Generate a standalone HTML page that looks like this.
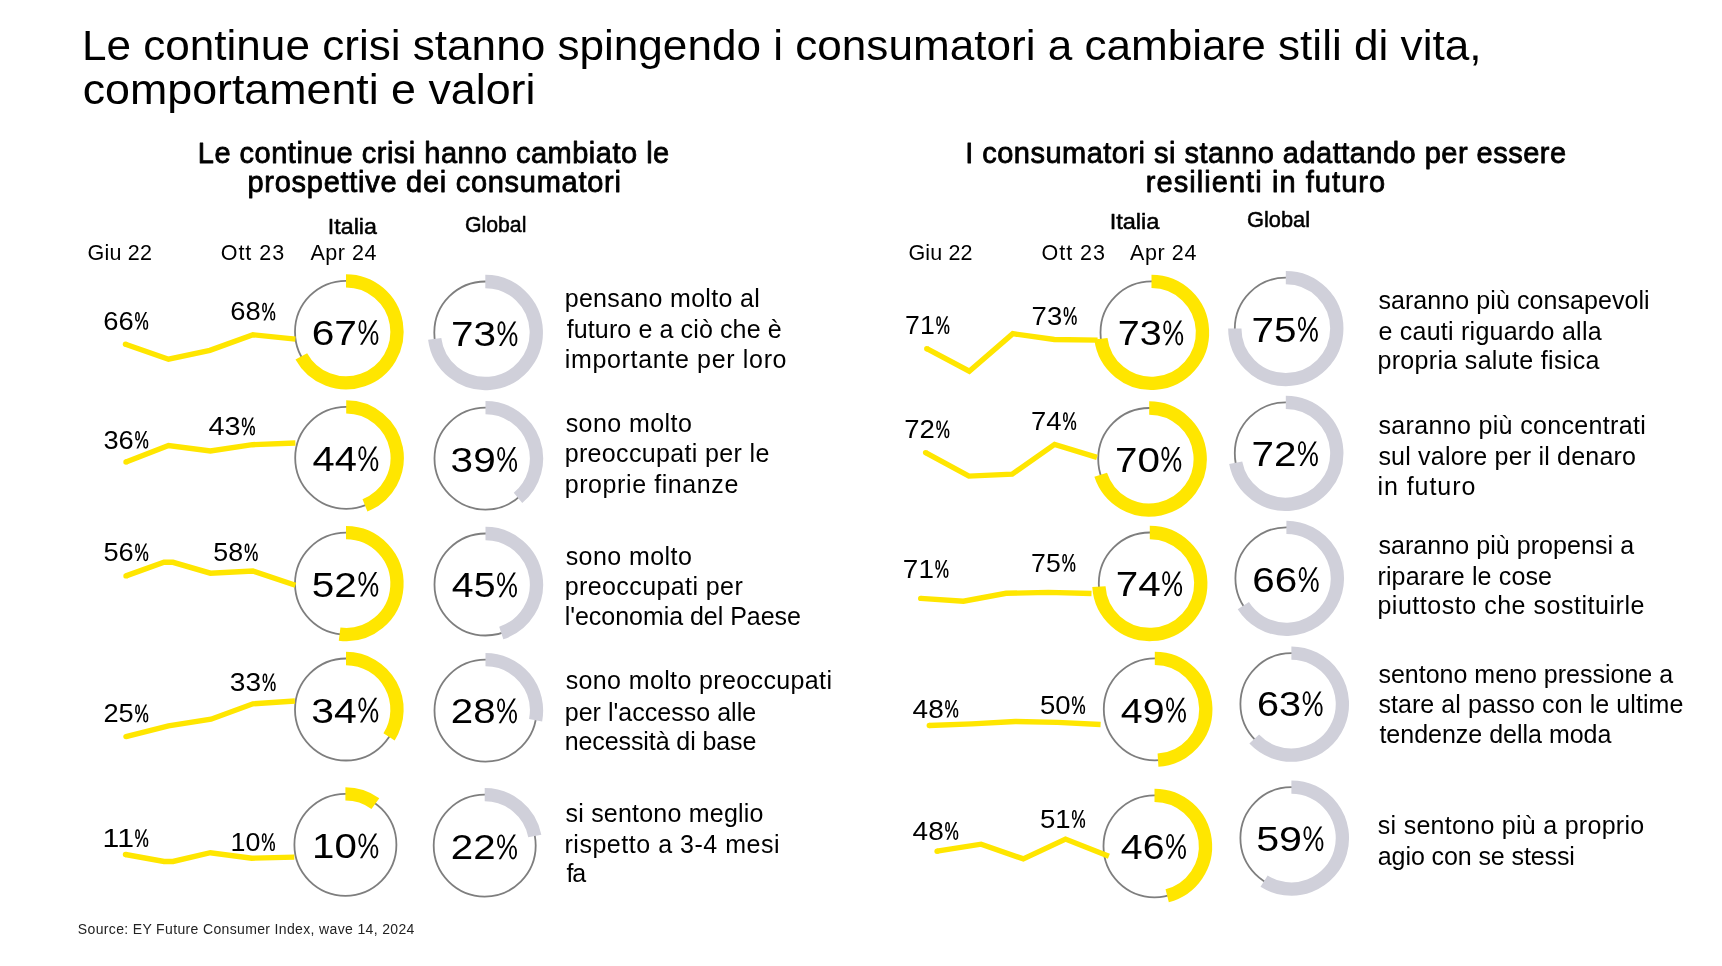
<!DOCTYPE html>
<html><head><meta charset="utf-8"><title>Consumatori</title><style>html,body{margin:0;padding:0;background:#fff;width:1722px;height:966px;overflow:hidden}</style></head><body>
<svg width="1722" height="966" viewBox="0 0 1722 966" style="display:block;will-change:transform;font-family:'Liberation Sans', sans-serif">
<rect width="1722" height="966" fill="#fff"/>
<circle cx="346" cy="331.8" r="51" fill="none" stroke="#7E7E7E" stroke-width="1.8"/>
<path d="M346,280.8 A51,51 0 1 1 301.31,356.37" fill="none" stroke="#FFE600" stroke-width="13.3"/>
<circle cx="485.3" cy="332.5" r="51" fill="none" stroke="#7E7E7E" stroke-width="1.8"/>
<path d="M485.3,281.5 A51,51 0 1 1 434.70,338.89" fill="none" stroke="#D0D0DA" stroke-width="13.3"/>
<circle cx="346.2" cy="457.9" r="51" fill="none" stroke="#7E7E7E" stroke-width="1.8"/>
<path d="M346.2,406.9 A51,51 0 0 1 364.97,505.32" fill="none" stroke="#FFE600" stroke-width="13.3"/>
<circle cx="485.5" cy="458.6" r="51" fill="none" stroke="#7E7E7E" stroke-width="1.8"/>
<path d="M485.5,407.6 A51,51 0 0 1 518.01,497.90" fill="none" stroke="#D0D0DA" stroke-width="13.3"/>
<circle cx="346" cy="583.6" r="51" fill="none" stroke="#7E7E7E" stroke-width="1.8"/>
<path d="M346,532.6 A51,51 0 1 1 339.61,634.20" fill="none" stroke="#FFE600" stroke-width="13.3"/>
<circle cx="485.5" cy="584.5" r="51" fill="none" stroke="#7E7E7E" stroke-width="1.8"/>
<path d="M485.5,533.5 A51,51 0 0 1 501.26,633.00" fill="none" stroke="#D0D0DA" stroke-width="13.3"/>
<circle cx="346" cy="709.5" r="51" fill="none" stroke="#7E7E7E" stroke-width="1.8"/>
<path d="M346,658.5 A51,51 0 0 1 389.06,736.83" fill="none" stroke="#FFE600" stroke-width="13.3"/>
<circle cx="485.5" cy="710.6" r="51" fill="none" stroke="#7E7E7E" stroke-width="1.8"/>
<path d="M485.5,659.6 A51,51 0 0 1 535.60,720.16" fill="none" stroke="#D0D0DA" stroke-width="13.3"/>
<circle cx="345.4" cy="844.8" r="51" fill="none" stroke="#7E7E7E" stroke-width="1.8"/>
<path d="M345.4,793.8 A51,51 0 0 1 375.38,803.54" fill="none" stroke="#FFE600" stroke-width="13.3"/>
<circle cx="484.7" cy="845.6" r="51" fill="none" stroke="#7E7E7E" stroke-width="1.8"/>
<path d="M484.7,794.6 A51,51 0 0 1 534.80,836.04" fill="none" stroke="#D0D0DA" stroke-width="13.3"/>
<circle cx="1151.5" cy="332.4" r="51" fill="none" stroke="#7E7E7E" stroke-width="1.8"/>
<path d="M1151.5,281.4 A51,51 0 1 1 1100.90,338.79" fill="none" stroke="#FFE600" stroke-width="13.3"/>
<circle cx="1285.8" cy="328.6" r="51" fill="none" stroke="#7E7E7E" stroke-width="1.8"/>
<path d="M1285.8,277.6 A51,51 0 1 1 1234.80,328.60" fill="none" stroke="#D0D0DA" stroke-width="13.3"/>
<circle cx="1149.2" cy="459" r="51" fill="none" stroke="#7E7E7E" stroke-width="1.8"/>
<path d="M1149.2,408 A51,51 0 1 1 1100.70,474.76" fill="none" stroke="#FFE600" stroke-width="13.3"/>
<circle cx="1285.8" cy="453.3" r="51" fill="none" stroke="#7E7E7E" stroke-width="1.8"/>
<path d="M1285.8,402.3 A51,51 0 1 1 1235.70,462.86" fill="none" stroke="#D0D0DA" stroke-width="13.3"/>
<circle cx="1149.8" cy="583.5" r="51" fill="none" stroke="#7E7E7E" stroke-width="1.8"/>
<path d="M1149.8,532.5 A51,51 0 1 1 1098.90,586.70" fill="none" stroke="#FFE600" stroke-width="13.3"/>
<circle cx="1286.4" cy="578.3" r="51" fill="none" stroke="#7E7E7E" stroke-width="1.8"/>
<path d="M1286.4,527.3 A51,51 0 1 1 1243.34,605.63" fill="none" stroke="#D0D0DA" stroke-width="13.3"/>
<circle cx="1154.8" cy="709.3" r="51" fill="none" stroke="#7E7E7E" stroke-width="1.8"/>
<path d="M1154.8,658.3 A51,51 0 0 1 1158.00,760.20" fill="none" stroke="#FFE600" stroke-width="13.3"/>
<circle cx="1291.4" cy="704.1" r="51" fill="none" stroke="#7E7E7E" stroke-width="1.8"/>
<path d="M1291.4,653.1 A51,51 0 1 1 1254.22,739.01" fill="none" stroke="#D0D0DA" stroke-width="13.3"/>
<circle cx="1154.5" cy="846.3" r="51" fill="none" stroke="#7E7E7E" stroke-width="1.8"/>
<path d="M1154.5,795.3 A51,51 0 0 1 1167.18,895.70" fill="none" stroke="#FFE600" stroke-width="13.3"/>
<circle cx="1291.4" cy="838.1" r="51" fill="none" stroke="#7E7E7E" stroke-width="1.8"/>
<path d="M1291.4,787.1 A51,51 0 1 1 1264.07,881.16" fill="none" stroke="#D0D0DA" stroke-width="13.3"/>
<ellipse cx="137.45" cy="316.86" rx="1.70" ry="4.11" fill="none" stroke="#000" stroke-width="1.50"/>
<ellipse cx="145.60" cy="324.95" rx="1.86" ry="4.11" fill="none" stroke="#000" stroke-width="1.50"/>
<polygon points="136.32,329.60 138.08,329.60 146.99,312.00 145.23,312.00" fill="#000"/>
<ellipse cx="264.55" cy="307.66" rx="1.70" ry="4.11" fill="none" stroke="#000" stroke-width="1.50"/>
<ellipse cx="272.70" cy="315.75" rx="1.86" ry="4.11" fill="none" stroke="#000" stroke-width="1.50"/>
<polygon points="263.42,320.40 265.18,320.40 274.09,302.80 272.33,302.80" fill="#000"/>
<ellipse cx="362.49" cy="326.96" rx="3.07" ry="6.03" fill="none" stroke="#000" stroke-width="1.85"/>
<ellipse cx="374.43" cy="337.99" rx="3.02" ry="6.08" fill="none" stroke="#000" stroke-width="1.85"/>
<polygon points="360.06,344.80 362.33,344.80 377.24,320.21 374.96,320.21" fill="#000"/>
<ellipse cx="501.49" cy="328.26" rx="3.07" ry="6.03" fill="none" stroke="#000" stroke-width="1.85"/>
<ellipse cx="513.43" cy="339.29" rx="3.02" ry="6.08" fill="none" stroke="#000" stroke-width="1.85"/>
<polygon points="499.06,346.10 501.33,346.10 516.24,321.51 513.96,321.51" fill="#000"/>
<ellipse cx="137.55" cy="435.76" rx="1.70" ry="4.11" fill="none" stroke="#000" stroke-width="1.50"/>
<ellipse cx="145.70" cy="443.85" rx="1.86" ry="4.11" fill="none" stroke="#000" stroke-width="1.50"/>
<polygon points="136.42,448.50 138.18,448.50 147.09,430.90 145.33,430.90" fill="#000"/>
<ellipse cx="244.25" cy="422.46" rx="1.70" ry="4.11" fill="none" stroke="#000" stroke-width="1.50"/>
<ellipse cx="252.40" cy="430.55" rx="1.86" ry="4.11" fill="none" stroke="#000" stroke-width="1.50"/>
<polygon points="243.12,435.20 244.88,435.20 253.79,417.60 252.03,417.60" fill="#000"/>
<ellipse cx="362.39" cy="453.16" rx="3.07" ry="6.03" fill="none" stroke="#000" stroke-width="1.85"/>
<ellipse cx="374.33" cy="464.19" rx="3.02" ry="6.08" fill="none" stroke="#000" stroke-width="1.85"/>
<polygon points="359.96,471.00 362.23,471.00 377.14,446.41 374.86,446.41" fill="#000"/>
<ellipse cx="501.19" cy="453.86" rx="3.07" ry="6.03" fill="none" stroke="#000" stroke-width="1.85"/>
<ellipse cx="513.13" cy="464.89" rx="3.02" ry="6.08" fill="none" stroke="#000" stroke-width="1.85"/>
<polygon points="498.76,471.70 501.03,471.70 515.94,447.11 513.66,447.11" fill="#000"/>
<ellipse cx="137.55" cy="548.26" rx="1.70" ry="4.11" fill="none" stroke="#000" stroke-width="1.50"/>
<ellipse cx="145.70" cy="556.35" rx="1.86" ry="4.11" fill="none" stroke="#000" stroke-width="1.50"/>
<polygon points="136.42,561.00 138.18,561.00 147.09,543.40 145.33,543.40" fill="#000"/>
<ellipse cx="247.05" cy="548.26" rx="1.70" ry="4.11" fill="none" stroke="#000" stroke-width="1.50"/>
<ellipse cx="255.20" cy="556.35" rx="1.86" ry="4.11" fill="none" stroke="#000" stroke-width="1.50"/>
<polygon points="245.92,561.00 247.68,561.00 256.59,543.40 254.83,543.40" fill="#000"/>
<ellipse cx="362.39" cy="578.76" rx="3.07" ry="6.03" fill="none" stroke="#000" stroke-width="1.85"/>
<ellipse cx="374.33" cy="589.79" rx="3.02" ry="6.08" fill="none" stroke="#000" stroke-width="1.85"/>
<polygon points="359.96,596.60 362.23,596.60 377.14,572.01 374.86,572.01" fill="#000"/>
<ellipse cx="501.09" cy="579.36" rx="3.07" ry="6.03" fill="none" stroke="#000" stroke-width="1.85"/>
<ellipse cx="513.03" cy="590.39" rx="3.02" ry="6.08" fill="none" stroke="#000" stroke-width="1.85"/>
<polygon points="498.66,597.20 500.93,597.20 515.84,572.61 513.56,572.61" fill="#000"/>
<ellipse cx="137.55" cy="709.46" rx="1.70" ry="4.11" fill="none" stroke="#000" stroke-width="1.50"/>
<ellipse cx="145.70" cy="717.55" rx="1.86" ry="4.11" fill="none" stroke="#000" stroke-width="1.50"/>
<polygon points="136.42,722.20 138.18,722.20 147.09,704.60 145.33,704.60" fill="#000"/>
<ellipse cx="264.95" cy="678.26" rx="1.70" ry="4.11" fill="none" stroke="#000" stroke-width="1.50"/>
<ellipse cx="273.10" cy="686.35" rx="1.86" ry="4.11" fill="none" stroke="#000" stroke-width="1.50"/>
<polygon points="263.82,691.00 265.58,691.00 274.49,673.40 272.73,673.40" fill="#000"/>
<ellipse cx="362.39" cy="704.56" rx="3.07" ry="6.03" fill="none" stroke="#000" stroke-width="1.85"/>
<ellipse cx="374.33" cy="715.59" rx="3.02" ry="6.08" fill="none" stroke="#000" stroke-width="1.85"/>
<polygon points="359.96,722.40 362.23,722.40 377.14,697.81 374.86,697.81" fill="#000"/>
<ellipse cx="501.09" cy="705.36" rx="3.07" ry="6.03" fill="none" stroke="#000" stroke-width="1.85"/>
<ellipse cx="513.03" cy="716.39" rx="3.02" ry="6.08" fill="none" stroke="#000" stroke-width="1.85"/>
<polygon points="498.66,723.20 500.93,723.20 515.84,698.61 513.56,698.61" fill="#000"/>
<ellipse cx="137.55" cy="834.16" rx="1.70" ry="4.11" fill="none" stroke="#000" stroke-width="1.50"/>
<ellipse cx="145.70" cy="842.25" rx="1.86" ry="4.11" fill="none" stroke="#000" stroke-width="1.50"/>
<polygon points="136.42,846.90 138.18,846.90 147.09,829.30 145.33,829.30" fill="#000"/>
<ellipse cx="264.25" cy="838.06" rx="1.70" ry="4.11" fill="none" stroke="#000" stroke-width="1.50"/>
<ellipse cx="272.40" cy="846.15" rx="1.86" ry="4.11" fill="none" stroke="#000" stroke-width="1.50"/>
<polygon points="263.12,850.80 264.88,850.80 273.79,833.20 272.03,833.20" fill="#000"/>
<ellipse cx="362.39" cy="840.36" rx="3.07" ry="6.03" fill="none" stroke="#000" stroke-width="1.85"/>
<ellipse cx="374.33" cy="851.39" rx="3.02" ry="6.08" fill="none" stroke="#000" stroke-width="1.85"/>
<polygon points="359.96,858.20 362.23,858.20 377.14,833.61 374.86,833.61" fill="#000"/>
<ellipse cx="501.09" cy="841.36" rx="3.07" ry="6.03" fill="none" stroke="#000" stroke-width="1.85"/>
<ellipse cx="513.03" cy="852.39" rx="3.02" ry="6.08" fill="none" stroke="#000" stroke-width="1.85"/>
<polygon points="498.66,859.20 500.93,859.20 515.84,834.61 513.56,834.61" fill="#000"/>
<ellipse cx="938.65" cy="321.16" rx="1.70" ry="4.11" fill="none" stroke="#000" stroke-width="1.50"/>
<ellipse cx="946.80" cy="329.25" rx="1.86" ry="4.11" fill="none" stroke="#000" stroke-width="1.50"/>
<polygon points="937.52,333.90 939.28,333.90 948.19,316.30 946.43,316.30" fill="#000"/>
<ellipse cx="1066.05" cy="311.96" rx="1.70" ry="4.11" fill="none" stroke="#000" stroke-width="1.50"/>
<ellipse cx="1074.20" cy="320.05" rx="1.86" ry="4.11" fill="none" stroke="#000" stroke-width="1.50"/>
<polygon points="1064.92,324.70 1066.68,324.70 1075.59,307.10 1073.83,307.10" fill="#000"/>
<ellipse cx="1167.29" cy="327.36" rx="3.07" ry="6.03" fill="none" stroke="#000" stroke-width="1.85"/>
<ellipse cx="1179.23" cy="338.39" rx="3.02" ry="6.08" fill="none" stroke="#000" stroke-width="1.85"/>
<polygon points="1164.86,345.20 1167.13,345.20 1182.04,320.61 1179.76,320.61" fill="#000"/>
<ellipse cx="1301.99" cy="323.76" rx="3.07" ry="6.03" fill="none" stroke="#000" stroke-width="1.85"/>
<ellipse cx="1313.93" cy="334.79" rx="3.02" ry="6.08" fill="none" stroke="#000" stroke-width="1.85"/>
<polygon points="1299.56,341.60 1301.83,341.60 1316.74,317.01 1314.46,317.01" fill="#000"/>
<ellipse cx="938.65" cy="425.26" rx="1.70" ry="4.11" fill="none" stroke="#000" stroke-width="1.50"/>
<ellipse cx="946.80" cy="433.35" rx="1.86" ry="4.11" fill="none" stroke="#000" stroke-width="1.50"/>
<polygon points="937.52,438.00 939.28,438.00 948.19,420.40 946.43,420.40" fill="#000"/>
<ellipse cx="1065.45" cy="417.16" rx="1.70" ry="4.11" fill="none" stroke="#000" stroke-width="1.50"/>
<ellipse cx="1073.60" cy="425.25" rx="1.86" ry="4.11" fill="none" stroke="#000" stroke-width="1.50"/>
<polygon points="1064.32,429.90 1066.08,429.90 1074.99,412.30 1073.23,412.30" fill="#000"/>
<ellipse cx="1165.39" cy="453.76" rx="3.07" ry="6.03" fill="none" stroke="#000" stroke-width="1.85"/>
<ellipse cx="1177.33" cy="464.79" rx="3.02" ry="6.08" fill="none" stroke="#000" stroke-width="1.85"/>
<polygon points="1162.96,471.60 1165.23,471.60 1180.14,447.01 1177.86,447.01" fill="#000"/>
<ellipse cx="1301.99" cy="448.16" rx="3.07" ry="6.03" fill="none" stroke="#000" stroke-width="1.85"/>
<ellipse cx="1313.93" cy="459.19" rx="3.02" ry="6.08" fill="none" stroke="#000" stroke-width="1.85"/>
<polygon points="1299.56,466.00 1301.83,466.00 1316.74,441.41 1314.46,441.41" fill="#000"/>
<ellipse cx="937.75" cy="564.96" rx="1.70" ry="4.11" fill="none" stroke="#000" stroke-width="1.50"/>
<ellipse cx="945.90" cy="573.05" rx="1.86" ry="4.11" fill="none" stroke="#000" stroke-width="1.50"/>
<polygon points="936.62,577.70 938.38,577.70 947.29,560.10 945.53,560.10" fill="#000"/>
<ellipse cx="1064.65" cy="558.86" rx="1.70" ry="4.11" fill="none" stroke="#000" stroke-width="1.50"/>
<ellipse cx="1072.80" cy="566.95" rx="1.86" ry="4.11" fill="none" stroke="#000" stroke-width="1.50"/>
<polygon points="1063.52,571.60 1065.28,571.60 1074.19,554.00 1072.43,554.00" fill="#000"/>
<ellipse cx="1166.19" cy="578.16" rx="3.07" ry="6.03" fill="none" stroke="#000" stroke-width="1.85"/>
<ellipse cx="1178.13" cy="589.19" rx="3.02" ry="6.08" fill="none" stroke="#000" stroke-width="1.85"/>
<polygon points="1163.76,596.00 1166.03,596.00 1180.94,571.41 1178.66,571.41" fill="#000"/>
<ellipse cx="1302.79" cy="574.06" rx="3.07" ry="6.03" fill="none" stroke="#000" stroke-width="1.85"/>
<ellipse cx="1314.73" cy="585.09" rx="3.02" ry="6.08" fill="none" stroke="#000" stroke-width="1.85"/>
<polygon points="1300.36,591.90 1302.63,591.90 1317.54,567.31 1315.26,567.31" fill="#000"/>
<ellipse cx="947.55" cy="704.76" rx="1.70" ry="4.11" fill="none" stroke="#000" stroke-width="1.50"/>
<ellipse cx="955.70" cy="712.85" rx="1.86" ry="4.11" fill="none" stroke="#000" stroke-width="1.50"/>
<polygon points="946.42,717.50 948.18,717.50 957.09,699.90 955.33,699.90" fill="#000"/>
<ellipse cx="1074.35" cy="701.16" rx="1.70" ry="4.11" fill="none" stroke="#000" stroke-width="1.50"/>
<ellipse cx="1082.50" cy="709.25" rx="1.86" ry="4.11" fill="none" stroke="#000" stroke-width="1.50"/>
<polygon points="1073.22,713.90 1074.98,713.90 1083.89,696.30 1082.13,696.30" fill="#000"/>
<ellipse cx="1170.09" cy="704.56" rx="3.07" ry="6.03" fill="none" stroke="#000" stroke-width="1.85"/>
<ellipse cx="1182.03" cy="715.59" rx="3.02" ry="6.08" fill="none" stroke="#000" stroke-width="1.85"/>
<polygon points="1167.66,722.40 1169.93,722.40 1184.84,697.81 1182.56,697.81" fill="#000"/>
<ellipse cx="1306.69" cy="698.16" rx="3.07" ry="6.03" fill="none" stroke="#000" stroke-width="1.85"/>
<ellipse cx="1318.63" cy="709.19" rx="3.02" ry="6.08" fill="none" stroke="#000" stroke-width="1.85"/>
<polygon points="1304.26,716.00 1306.53,716.00 1321.44,691.41 1319.16,691.41" fill="#000"/>
<ellipse cx="947.55" cy="826.96" rx="1.70" ry="4.11" fill="none" stroke="#000" stroke-width="1.50"/>
<ellipse cx="955.70" cy="835.05" rx="1.86" ry="4.11" fill="none" stroke="#000" stroke-width="1.50"/>
<polygon points="946.42,839.70 948.18,839.70 957.09,822.10 955.33,822.10" fill="#000"/>
<ellipse cx="1074.35" cy="814.96" rx="1.70" ry="4.11" fill="none" stroke="#000" stroke-width="1.50"/>
<ellipse cx="1082.50" cy="823.05" rx="1.86" ry="4.11" fill="none" stroke="#000" stroke-width="1.50"/>
<polygon points="1073.22,827.70 1074.98,827.70 1083.89,810.10 1082.13,810.10" fill="#000"/>
<ellipse cx="1170.09" cy="840.96" rx="3.07" ry="6.03" fill="none" stroke="#000" stroke-width="1.85"/>
<ellipse cx="1182.03" cy="851.99" rx="3.02" ry="6.08" fill="none" stroke="#000" stroke-width="1.85"/>
<polygon points="1167.66,858.80 1169.93,858.80 1184.84,834.21 1182.56,834.21" fill="#000"/>
<ellipse cx="1307.49" cy="833.16" rx="3.07" ry="6.03" fill="none" stroke="#000" stroke-width="1.85"/>
<ellipse cx="1319.43" cy="844.19" rx="3.02" ry="6.08" fill="none" stroke="#000" stroke-width="1.85"/>
<polygon points="1305.06,851.00 1307.33,851.00 1322.24,826.41 1319.96,826.41" fill="#000"/>
<path d="M125.5,344.3 L168.5,359.2 L209.9,350.4 L253,334.8 L295.4,339.1" fill="none" stroke="#FFE600" stroke-width="5.4" stroke-linejoin="miter" stroke-linecap="butt"/>
<circle cx="125.5" cy="344.3" r="2.7" fill="#FFE600"/>
<path d="M126,462 L168.5,445.5 L210.4,451 L252.4,444.7 L295.4,443" fill="none" stroke="#FFE600" stroke-width="5.4" stroke-linejoin="miter" stroke-linecap="butt"/>
<circle cx="126" cy="462" r="2.7" fill="#FFE600"/>
<path d="M126,575.9 L164,562.3 L173,562.3 L210.4,573.2 L252.9,571 L295.4,585.3" fill="none" stroke="#FFE600" stroke-width="5.4" stroke-linejoin="miter" stroke-linecap="butt"/>
<circle cx="126" cy="575.9" r="2.7" fill="#FFE600"/>
<path d="M126,736.6 L168.5,725.9 L211,719.2 L252.9,703.8 L294.9,701" fill="none" stroke="#FFE600" stroke-width="5.4" stroke-linejoin="miter" stroke-linecap="butt"/>
<circle cx="126" cy="736.6" r="2.7" fill="#FFE600"/>
<path d="M125.5,854.5 L164,861.5 L173,861.5 L210.4,852.7 L251.8,858.2 L294.3,857.1" fill="none" stroke="#FFE600" stroke-width="5.4" stroke-linejoin="miter" stroke-linecap="butt"/>
<circle cx="125.5" cy="854.5" r="2.7" fill="#FFE600"/>
<path d="M926.8,348.7 L969.3,371.2 L1012.8,333.7 L1054.3,339.5 L1097.6,340.1" fill="none" stroke="#FFE600" stroke-width="5.4" stroke-linejoin="miter" stroke-linecap="butt"/>
<circle cx="926.8" cy="348.7" r="2.7" fill="#FFE600"/>
<path d="M925.6,452.6 L968.9,476.1 L1012.2,474.1 L1054.6,444.4 L1097,457.4" fill="none" stroke="#FFE600" stroke-width="5.4" stroke-linejoin="miter" stroke-linecap="butt"/>
<circle cx="925.6" cy="452.6" r="2.7" fill="#FFE600"/>
<path d="M920.7,598.4 L963.4,601.2 L1006.1,593.3 L1048.2,592.4 L1091.5,593.5" fill="none" stroke="#FFE600" stroke-width="5.4" stroke-linejoin="miter" stroke-linecap="butt"/>
<circle cx="920.7" cy="598.4" r="2.7" fill="#FFE600"/>
<path d="M929.3,725.5 L972,723.9 L1015.2,721.5 L1057.3,722.4 L1100.6,724.5" fill="none" stroke="#FFE600" stroke-width="5.4" stroke-linejoin="miter" stroke-linecap="butt"/>
<circle cx="929.3" cy="725.5" r="2.7" fill="#FFE600"/>
<path d="M937.1,851.2 L981.1,844.2 L1023.3,858.9 L1065.5,839.1 L1108.9,856.3" fill="none" stroke="#FFE600" stroke-width="5.4" stroke-linejoin="miter" stroke-linecap="butt"/>
<circle cx="937.1" cy="851.2" r="2.7" fill="#FFE600"/>
<text x="81.90" y="60.2" font-size="43" fill="#000" textLength="1399.58" lengthAdjust="spacingAndGlyphs">Le continue crisi stanno spingendo i consumatori a cambiare stili di vita,</text>
<text x="82.72" y="103.9" font-size="43" fill="#000" textLength="452.67" lengthAdjust="spacingAndGlyphs">comportamenti e valori</text>
<text x="197.80" y="162.8" font-size="29" fill="#000" stroke="#000" stroke-width="0.8" stroke-linejoin="round" textLength="471.43" lengthAdjust="spacing">Le continue crisi hanno cambiato le</text>
<text x="247.50" y="191.9" font-size="29" fill="#000" stroke="#000" stroke-width="0.8" stroke-linejoin="round" textLength="373.34" lengthAdjust="spacing">prospettive dei consumatori</text>
<text x="965.20" y="162.6" font-size="29" fill="#000" stroke="#000" stroke-width="0.8" stroke-linejoin="round" textLength="600.84" lengthAdjust="spacing">I consumatori si stanno adattando per essere</text>
<text x="1145.70" y="191.5" font-size="29" fill="#000" stroke="#000" stroke-width="0.8" stroke-linejoin="round" textLength="239.52" lengthAdjust="spacing">resilienti in futuro</text>
<text x="327.89" y="234" font-size="22" fill="#000" stroke="#000" stroke-width="0.5" stroke-linejoin="round" textLength="48.96" lengthAdjust="spacingAndGlyphs">Italia</text>
<text x="464.93" y="231.8" font-size="22" fill="#000" stroke="#000" stroke-width="0.5" stroke-linejoin="round" textLength="61.44" lengthAdjust="spacingAndGlyphs">Global</text>
<text x="1109.66" y="229" font-size="22" fill="#000" stroke="#000" stroke-width="0.5" stroke-linejoin="round" textLength="49.79" lengthAdjust="spacingAndGlyphs">Italia</text>
<text x="1247.01" y="226.9" font-size="22" fill="#000" stroke="#000" stroke-width="0.5" stroke-linejoin="round" textLength="62.98" lengthAdjust="spacingAndGlyphs">Global</text>
<text x="87.50" y="259.5" font-size="21.5" fill="#000" textLength="64.46" lengthAdjust="spacing">Giu 22</text>
<text x="220.70" y="259.9" font-size="21.5" fill="#000" textLength="63.46" lengthAdjust="spacing">Ott 23</text>
<text x="310.50" y="260" font-size="21.5" fill="#000" textLength="65.86" lengthAdjust="spacing">Apr 24</text>
<text x="908.40" y="259.9" font-size="21.5" fill="#000" textLength="64.16" lengthAdjust="spacing">Giu 22</text>
<text x="1041.60" y="259.9" font-size="21.5" fill="#000" textLength="63.36" lengthAdjust="spacing">Ott 23</text>
<text x="1130.00" y="259.9" font-size="21.5" fill="#000" textLength="66.36" lengthAdjust="spacing">Apr 24</text>
<text x="77.80" y="934" font-size="14" fill="#222" textLength="336.57" lengthAdjust="spacing">Source: EY Future Consumer Index, wave 14, 2024</text>
<text x="103.21" y="329.6" font-size="25" fill="#000" textLength="30.39" lengthAdjust="spacingAndGlyphs">66</text>
<text x="230.31" y="320.4" font-size="25" fill="#000" textLength="30.39" lengthAdjust="spacingAndGlyphs">68</text>
<text x="311.70" y="345.0" font-size="35.4" fill="#000" textLength="45.28" lengthAdjust="spacingAndGlyphs">67</text>
<text x="450.91" y="346.29999999999995" font-size="35.4" fill="#000" textLength="45.07" lengthAdjust="spacingAndGlyphs">73</text>
<text x="564.70" y="306.8" font-size="25" fill="#000" textLength="195.01" lengthAdjust="spacing">pensano molto al</text>
<text x="566.70" y="337.8" font-size="25" fill="#000" textLength="214.94" lengthAdjust="spacing">futuro e a ciò che è</text>
<text x="564.70" y="367.6" font-size="25" fill="#000" textLength="221.83" lengthAdjust="spacing">importante per loro</text>
<text x="103.41" y="448.5" font-size="25" fill="#000" textLength="30.29" lengthAdjust="spacingAndGlyphs">36</text>
<text x="208.45" y="435.2" font-size="25" fill="#000" textLength="32.00" lengthAdjust="spacingAndGlyphs">43</text>
<text x="312.47" y="471.2" font-size="35.4" fill="#000" textLength="44.38" lengthAdjust="spacingAndGlyphs">44</text>
<text x="450.61" y="471.9" font-size="35.4" fill="#000" textLength="45.07" lengthAdjust="spacingAndGlyphs">39</text>
<text x="565.70" y="431.9" font-size="25" fill="#000" textLength="126.10" lengthAdjust="spacing">sono molto</text>
<text x="564.70" y="461.7" font-size="25" fill="#000" textLength="204.63" lengthAdjust="spacing">preoccupati per le</text>
<text x="564.70" y="492.6" font-size="25" fill="#000" textLength="173.59" lengthAdjust="spacing">proprie finanze</text>
<text x="103.41" y="561" font-size="25" fill="#000" textLength="30.29" lengthAdjust="spacingAndGlyphs">56</text>
<text x="213.33" y="561" font-size="25" fill="#000" textLength="29.86" lengthAdjust="spacingAndGlyphs">58</text>
<text x="311.81" y="596.8" font-size="35.4" fill="#000" textLength="45.07" lengthAdjust="spacingAndGlyphs">52</text>
<text x="451.89" y="597.4" font-size="35.4" fill="#000" textLength="43.63" lengthAdjust="spacingAndGlyphs">45</text>
<text x="565.70" y="564.5" font-size="25" fill="#000" textLength="126.10" lengthAdjust="spacing">sono molto</text>
<text x="564.70" y="594.8" font-size="25" fill="#000" textLength="178.03" lengthAdjust="spacing">preoccupati per</text>
<text x="564.70" y="625.2" font-size="25" fill="#000" textLength="236.17" lengthAdjust="spacing">l'economia del Paese</text>
<text x="103.41" y="722.2" font-size="25" fill="#000" textLength="30.29" lengthAdjust="spacingAndGlyphs">25</text>
<text x="229.88" y="691" font-size="25" fill="#000" textLength="31.25" lengthAdjust="spacingAndGlyphs">33</text>
<text x="311.28" y="722.6" font-size="35.4" fill="#000" textLength="45.61" lengthAdjust="spacingAndGlyphs">34</text>
<text x="450.72" y="723.4" font-size="35.4" fill="#000" textLength="44.85" lengthAdjust="spacingAndGlyphs">28</text>
<text x="565.70" y="689" font-size="25" fill="#000" textLength="266.28" lengthAdjust="spacing">sono molto preoccupati</text>
<text x="564.70" y="720.5" font-size="25" fill="#000" textLength="191.48" lengthAdjust="spacing">per l'accesso alle</text>
<text x="564.70" y="750.2" font-size="25" fill="#000" textLength="191.69" lengthAdjust="spacing">necessità di base</text>
<text x="102.58" y="846.9" font-size="25" fill="#000" textLength="31.38" lengthAdjust="spacingAndGlyphs">11</text>
<text x="230.56" y="850.8" font-size="25" fill="#000" textLength="29.83" lengthAdjust="spacingAndGlyphs">10</text>
<text x="312.09" y="858.4" font-size="35.4" fill="#000" textLength="44.78" lengthAdjust="spacingAndGlyphs">10</text>
<text x="450.72" y="859.4" font-size="35.4" fill="#000" textLength="44.85" lengthAdjust="spacingAndGlyphs">22</text>
<text x="565.50" y="821.9" font-size="25" fill="#000" textLength="197.96" lengthAdjust="spacing">si sentono meglio</text>
<text x="564.50" y="852.7" font-size="25" fill="#000" textLength="215.04" lengthAdjust="spacing">rispetto a 3-4 mesi</text>
<text x="566.50" y="882.3" font-size="25" fill="#000" textLength="19.56" lengthAdjust="spacing">fa</text>
<text x="905.13" y="333.9" font-size="25" fill="#000" textLength="29.64" lengthAdjust="spacingAndGlyphs">71</text>
<text x="1031.60" y="324.7" font-size="25" fill="#000" textLength="30.61" lengthAdjust="spacingAndGlyphs">73</text>
<text x="1117.77" y="345.4" font-size="35.4" fill="#000" textLength="43.97" lengthAdjust="spacingAndGlyphs">73</text>
<text x="1251.52" y="341.79999999999995" font-size="35.4" fill="#000" textLength="44.96" lengthAdjust="spacingAndGlyphs">75</text>
<text x="1378.40" y="308.5" font-size="25" fill="#000" textLength="271.24" lengthAdjust="spacing">saranno più consapevoli</text>
<text x="1378.40" y="339.5" font-size="25" fill="#000" textLength="223.20" lengthAdjust="spacing">e cauti riguardo alla</text>
<text x="1377.40" y="369.3" font-size="25" fill="#000" textLength="221.99" lengthAdjust="spacing">propria salute fisica</text>
<text x="904.20" y="438" font-size="25" fill="#000" textLength="30.61" lengthAdjust="spacingAndGlyphs">72</text>
<text x="1031.10" y="429.9" font-size="25" fill="#000" textLength="30.50" lengthAdjust="spacingAndGlyphs">74</text>
<text x="1114.92" y="471.79999999999995" font-size="35.4" fill="#000" textLength="44.96" lengthAdjust="spacingAndGlyphs">70</text>
<text x="1251.52" y="466.2" font-size="35.4" fill="#000" textLength="44.96" lengthAdjust="spacingAndGlyphs">72</text>
<text x="1378.40" y="434.4" font-size="25" fill="#000" textLength="267.49" lengthAdjust="spacing">saranno più concentrati</text>
<text x="1378.40" y="464.8" font-size="25" fill="#000" textLength="257.52" lengthAdjust="spacing">sul valore per il denaro</text>
<text x="1377.40" y="494.6" font-size="25" fill="#000" textLength="97.94" lengthAdjust="spacing">in futuro</text>
<text x="902.88" y="577.7" font-size="25" fill="#000" textLength="31.03" lengthAdjust="spacingAndGlyphs">71</text>
<text x="1031.13" y="571.6" font-size="25" fill="#000" textLength="29.64" lengthAdjust="spacingAndGlyphs">75</text>
<text x="1115.72" y="596.1999999999999" font-size="35.4" fill="#000" textLength="44.96" lengthAdjust="spacingAndGlyphs">74</text>
<text x="1252.32" y="592.1" font-size="35.4" fill="#000" textLength="44.96" lengthAdjust="spacingAndGlyphs">66</text>
<text x="1378.40" y="553.6" font-size="25" fill="#000" textLength="255.66" lengthAdjust="spacing">saranno più propensi a</text>
<text x="1377.40" y="584.6" font-size="25" fill="#000" textLength="174.61" lengthAdjust="spacing">riparare le cose</text>
<text x="1377.40" y="613.9" font-size="25" fill="#000" textLength="267.00" lengthAdjust="spacing">piuttosto che sostituirle</text>
<text x="912.58" y="717.5" font-size="25" fill="#000" textLength="31.14" lengthAdjust="spacingAndGlyphs">48</text>
<text x="1039.90" y="713.9" font-size="25" fill="#000" textLength="30.61" lengthAdjust="spacingAndGlyphs">50</text>
<text x="1120.79" y="722.6" font-size="35.4" fill="#000" textLength="43.74" lengthAdjust="spacingAndGlyphs">49</text>
<text x="1257.06" y="716.1999999999999" font-size="35.4" fill="#000" textLength="44.08" lengthAdjust="spacingAndGlyphs">63</text>
<text x="1378.40" y="682.7" font-size="25" fill="#000" textLength="294.66" lengthAdjust="spacing">sentono meno pressione a</text>
<text x="1378.40" y="713.2" font-size="25" fill="#000" textLength="304.94" lengthAdjust="spacing">stare al passo con le ultime</text>
<text x="1379.40" y="743" font-size="25" fill="#000" textLength="232.02" lengthAdjust="spacing">tendenze della moda</text>
<text x="912.58" y="839.7" font-size="25" fill="#000" textLength="31.14" lengthAdjust="spacingAndGlyphs">48</text>
<text x="1039.90" y="827.7" font-size="25" fill="#000" textLength="30.61" lengthAdjust="spacingAndGlyphs">51</text>
<text x="1120.79" y="859.0" font-size="35.4" fill="#000" textLength="43.74" lengthAdjust="spacingAndGlyphs">46</text>
<text x="1256.17" y="851.1999999999999" font-size="35.4" fill="#000" textLength="45.83" lengthAdjust="spacingAndGlyphs">59</text>
<text x="1377.80" y="833.5" font-size="25" fill="#000" textLength="266.39" lengthAdjust="spacing">si sentono più a proprio</text>
<text x="1377.80" y="864.5" font-size="25" fill="#000" textLength="197.12" lengthAdjust="spacing">agio con se stessi</text>
</svg>
</body></html>
